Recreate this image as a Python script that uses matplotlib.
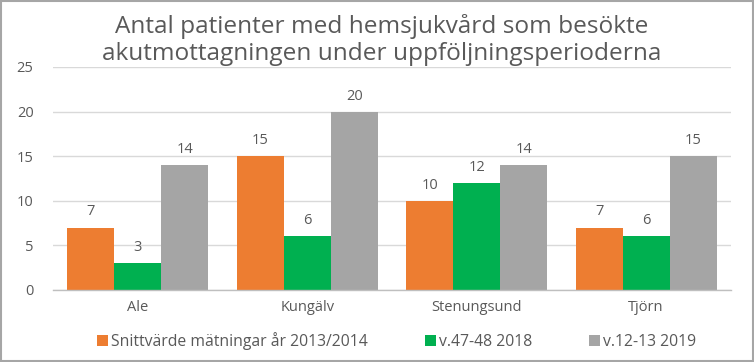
import matplotlib
matplotlib.use("Agg")
import matplotlib.pyplot as plt
import numpy as np
from matplotlib.patches import Rectangle

plt.rcParams['font.family'] = ['Open Sans', 'DejaVu Sans']

categories = ["Ale", "Kungälv", "Stenungsund", "Tjörn"]
series_names = ["Snittvärde mätningar år 2013/2014", "v.47-48 2018", "v.12-13 2019"]
s1 = [7, 15, 10, 7]
s2 = [3, 6, 12, 6]
s3 = [14, 20, 14, 15]
colors = ["#ED7D31", "#00B050", "#A5A5A5"]
title = "Antal patienter med hemsjukvård som besökte\nakutmottagningen under uppföljningsperioderna"

fig = plt.figure(figsize=(7.54, 3.62), dpi=100)
ax = fig.add_axes([0.0703, 0.199, 0.899, 0.616])

x = np.arange(len(categories))
w = 0.277
txtc = "#595959"
for i, (vals, c, name) in enumerate(zip([s1, s2, s3], colors, series_names)):
    pos = x + (i - 1) * w
    bars = ax.bar(pos, vals, width=w, color=c, label=name, zorder=3)
    for xi, v in zip(pos, vals):
        ax.text(xi, v + 0.9, str(v), ha='center', va='bottom', fontsize=10.5, color=txtc)

ax.set_xlim(-0.5, len(categories) - 0.5)
ax.set_ylim(0, 25)
ax.set_yticks([0, 5, 10, 15, 20, 25])
ax.set_xticks(x)
ax.set_xticklabels(categories)
ax.tick_params(axis='both', length=0, labelsize=10.5, colors=txtc)
ax.tick_params(axis='x', pad=7)
ax.tick_params(axis='y', pad=14)
ax.grid(axis='y', color='#D9D9D9', linewidth=1, zorder=0)
for s in ['top', 'right', 'left']:
    ax.spines[s].set_visible(False)
ax.spines['bottom'].set_color('#BFBFBF')
ax.spines['bottom'].set_linewidth(1)
ax.spines['bottom'].set_zorder(4)

fig.text(0.506, 0.89, title, ha='center', va='center', fontsize=17.6, color=txtc, linespacing=1.2)

leg = fig.legend(loc='center', bbox_to_anchor=(0.526, 0.058), ncol=3, frameon=False,
                 fontsize=11.3, handlelength=0.7, handleheight=0.7, handletextpad=0.2,
                 columnspacing=3.6, labelcolor=txtc)

fig.add_artist(Rectangle((0.0015, 0.003), 0.997, 0.994, transform=fig.transFigure,
                         fill=False, edgecolor='#A6A6A6', linewidth=1.5))

fig.savefig("out.png", dpi=100)
